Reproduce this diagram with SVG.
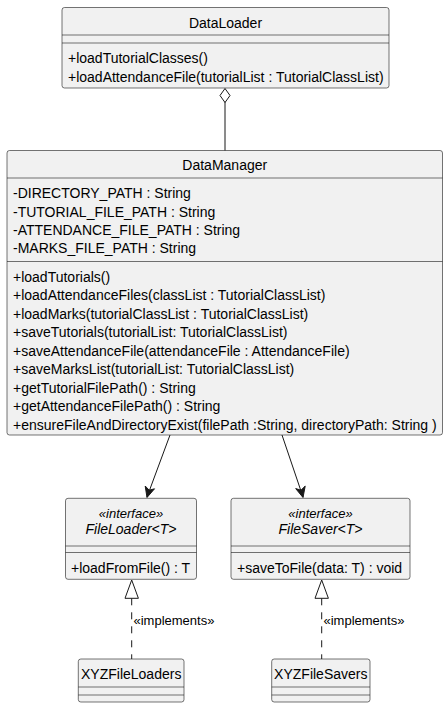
<svg xmlns="http://www.w3.org/2000/svg" width="448" height="709" viewBox="0 0 448 709">
<style>
.box{fill:#F1F1F1;stroke:#181818;stroke-width:0.6}
.sep{stroke:#181818;stroke-width:0.6}
text{font-family:"Liberation Sans",Arial,sans-serif;font-size:14px;fill:#000}
.c{text-anchor:middle}
.i{font-style:italic}
.s{font-size:13px}
.edge{stroke:#181818;stroke-width:1;fill:none}
</style>
<rect width="448" height="709" fill="#FFFFFF"/>
<g id="DataLoader">
<rect class="box" x="62" y="7.5" width="327" height="80.5" rx="2.5"/>
<line class="sep" x1="62" y1="35" x2="389" y2="35"/>
<line class="sep" x1="62" y1="43" x2="389" y2="43"/>
<text class="c" x="225.5" y="28">DataLoader</text>
<text x="68" y="63.3">+loadTutorialClasses()</text>
<text x="68" y="81.7">+loadAttendanceFile(tutorialList : TutorialClassList)</text>
</g>
<g id="DataManager">
<rect class="box" x="7" y="150.5" width="435.5" height="284.5" rx="2.5"/>
<line class="sep" x1="7" y1="178" x2="442.5" y2="178"/>
<line class="sep" x1="7" y1="261.5" x2="442.5" y2="261.5"/>
<text class="c" x="224.75" y="170">DataManager</text>
<text x="13" y="198.3">-DIRECTORY_PATH : String</text>
<text x="13" y="216.7">-TUTORIAL_FILE_PATH : String</text>
<text x="13" y="235">-ATTENDANCE_FILE_PATH : String</text>
<text x="13" y="253.3">-MARKS_FILE_PATH : String</text>
<text x="13" y="281.5">+loadTutorials()</text>
<text x="13" y="300">+loadAttendanceFiles(classList : TutorialClassList)</text>
<text x="13" y="318.5">+loadMarks(tutorialClassList : TutorialClassList)</text>
<text x="13" y="337">+saveTutorials(tutorialList: TutorialClassList)</text>
<text x="13" y="355.5">+saveAttendanceFile(attendanceFile : AttendanceFile)</text>
<text x="13" y="374">+saveMarksList(tutorialList: TutorialClassList)</text>
<text x="13" y="392.5">+getTutorialFilePath() : String</text>
<text x="13" y="411">+getAttendanceFilePath() : String</text>
<text x="13" y="429.5">+ensureFileAndDirectoryExist(filePath :String, directoryPath: String )</text>
</g>
<g id="FileLoader">
<rect class="box" x="65.5" y="498.3" width="131" height="81" rx="2.5"/>
<line class="sep" x1="65.5" y1="546" x2="196.5" y2="546"/>
<line class="sep" x1="65.5" y1="552.5" x2="196.5" y2="552.5"/>
<text class="c i s" x="131" y="518">«interface»</text>
<text class="c i" x="131" y="534.3">FileLoader&lt;T&gt;</text>
<text x="71" y="573.3">+loadFromFile() : T</text>
</g>
<g id="FileSaver">
<rect class="box" x="231" y="498.3" width="179" height="81" rx="2.5"/>
<line class="sep" x1="231" y1="546" x2="410" y2="546"/>
<line class="sep" x1="231" y1="552.5" x2="410" y2="552.5"/>
<text class="c i s" x="320.5" y="518">«interface»</text>
<text class="c i" x="320.5" y="534.3">FileSaver&lt;T&gt;</text>
<text x="237" y="573.3">+saveToFile(data: T) : void</text>
</g>
<g id="XYZFileLoaders">
<rect class="box" x="78.3" y="659" width="105.7" height="43" rx="2.5"/>
<line class="sep" x1="78.3" y1="687" x2="184" y2="687"/>
<line class="sep" x1="78.3" y1="695" x2="184" y2="695"/>
<text class="c" x="131.2" y="678.5">XYZFileLoaders</text>
</g>
<g id="XYZFileSavers">
<rect class="box" x="271.7" y="659" width="98.3" height="43" rx="2.5"/>
<line class="sep" x1="271.7" y1="687" x2="370" y2="687"/>
<line class="sep" x1="271.7" y1="695" x2="370" y2="695"/>
<text class="c" x="320.8" y="678.5">XYZFileSavers</text>
</g>
<g id="connectors">
<line class="edge" x1="225" y1="102" x2="225" y2="150.5"/>
<polygon points="225,88.5 230,95.5 225,102.5 220,95.5" fill="#FFFFFF" stroke="#181818" stroke-width="1"/>
<line class="edge" x1="170" y1="435" x2="147" y2="497"/>
<polygon points="147,497.5 145.2,486 149.2,490.2 154.5,488.8" fill="#181818" stroke="#181818" stroke-width="1"/>
<line class="edge" x1="282" y1="435" x2="303" y2="497"/>
<polygon points="303,497.5 295.7,488.6 301,490.2 305.2,486.1" fill="#181818" stroke="#181818" stroke-width="1"/>
<line class="edge" x1="131.7" y1="598.3" x2="131.7" y2="659" stroke-dasharray="7,7"/>
<polygon points="131.7,580 138.4,598.3 125,598.3" fill="#FFFFFF" stroke="#181818" stroke-width="1"/>
<text class="s" x="133.5" y="625">«implements»</text>
<line class="edge" x1="321.7" y1="598.3" x2="321.7" y2="659" stroke-dasharray="7,7"/>
<polygon points="321.7,580 328.4,598.3 315,598.3" fill="#FFFFFF" stroke="#181818" stroke-width="1"/>
<text class="s" x="323.5" y="625">«implements»</text>
</g>
</svg>
